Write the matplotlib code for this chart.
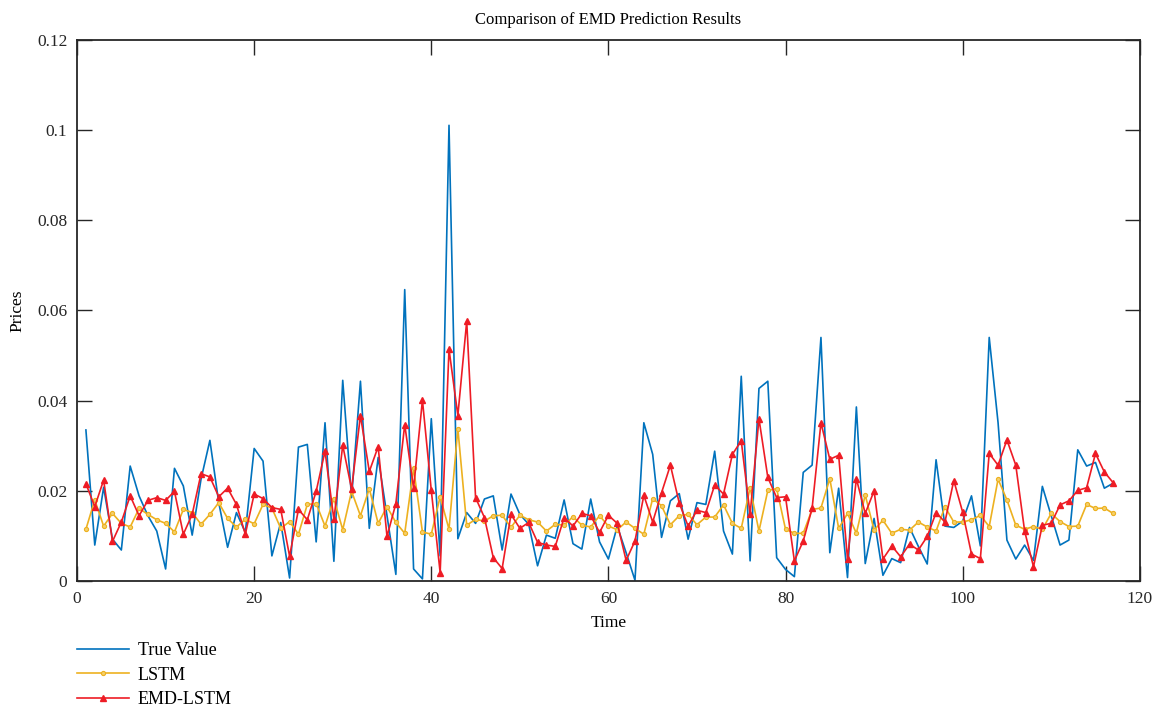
import matplotlib
matplotlib.use('Agg')
import matplotlib.pyplot as plt
import numpy as np

plt.rcParams['font.family'] = ['Liberation Serif', 'DejaVu Serif']

# values, time steps 1..117
true_value = [
    0.0335, 0.0080, 0.0208, 0.0093, 0.0069, 0.0255, 0.0189, 0.0145, 0.0111, 0.0027,
    0.0250, 0.0211, 0.0102, 0.0226, 0.0312, 0.0174, 0.0075, 0.0152, 0.0108, 0.0294,
    0.0266, 0.0056, 0.0130, 0.0007, 0.0297, 0.0303, 0.0087, 0.0351, 0.0044, 0.0445,
    0.0185, 0.0443, 0.0117, 0.0274, 0.0145, 0.0015, 0.0646, 0.0027, 0.0005, 0.0360,
    0.0056, 0.1010, 0.0094, 0.0152, 0.0128, 0.0182, 0.0189, 0.0069, 0.0193, 0.0148,
    0.0126, 0.0034, 0.0102, 0.0095, 0.0180, 0.0083, 0.0071, 0.0182, 0.0087, 0.0049,
    0.0122, 0.0063, 0.0002, 0.0351, 0.0281, 0.0097, 0.0178, 0.0194, 0.0093, 0.0174,
    0.0170, 0.0288, 0.0111, 0.0060, 0.0454, 0.0045, 0.0427, 0.0443, 0.0052, 0.0026,
    0.0010, 0.0241, 0.0257, 0.0540, 0.0063, 0.0206, 0.0008, 0.0386, 0.0039, 0.0139,
    0.0013, 0.0050, 0.0041, 0.0119, 0.0077, 0.0038, 0.0269, 0.0122, 0.0119, 0.0133,
    0.0189, 0.0078, 0.0540, 0.0351, 0.0091, 0.0049, 0.0080, 0.0046, 0.0210, 0.0145,
    0.0080, 0.0091, 0.0291, 0.0255, 0.0263, 0.0206, 0.0217,
]
lstm = [
    0.0115, 0.0180, 0.0122, 0.0150, 0.0128, 0.0120, 0.0161, 0.0148, 0.0136, 0.0128,
    0.0109, 0.0159, 0.0152, 0.0126, 0.0148, 0.0174, 0.0139, 0.0120, 0.0137, 0.0127,
    0.0170, 0.0162, 0.0117, 0.0132, 0.0104, 0.0170, 0.0172, 0.0122, 0.0183, 0.0114,
    0.0199, 0.0145, 0.0205, 0.0128, 0.0165, 0.0130, 0.0106, 0.0250, 0.0109, 0.0104,
    0.0187, 0.0115, 0.0338, 0.0124, 0.0137, 0.0133, 0.0145, 0.0146, 0.0119, 0.0146,
    0.0136, 0.0131, 0.0111, 0.0126, 0.0124, 0.0143, 0.0124, 0.0120, 0.0145, 0.0122,
    0.0114, 0.0131, 0.0117, 0.0104, 0.0183, 0.0167, 0.0125, 0.0145, 0.0148, 0.0125,
    0.0142, 0.0142, 0.0169, 0.0128, 0.0117, 0.0207, 0.0111, 0.0201, 0.0205, 0.0115,
    0.0106, 0.0106, 0.0159, 0.0162, 0.0227, 0.0117, 0.0150, 0.0106, 0.0191, 0.0113,
    0.0135, 0.0106, 0.0115, 0.0113, 0.0131, 0.0120, 0.0111, 0.0165, 0.0131, 0.0131,
    0.0136, 0.0146, 0.0121, 0.0226, 0.0180, 0.0124, 0.0115, 0.0121, 0.0115, 0.0150,
    0.0132, 0.0121, 0.0122, 0.0170, 0.0161, 0.0162, 0.0150,
]
emd_lstm = [
    0.0216, 0.0165, 0.0224, 0.0088, 0.0131, 0.0189, 0.0145, 0.0179, 0.0185, 0.0179,
    0.0199, 0.0104, 0.0148, 0.0238, 0.0231, 0.0187, 0.0206, 0.0170, 0.0104, 0.0193,
    0.0183, 0.0163, 0.0159, 0.0055, 0.0159, 0.0136, 0.0199, 0.0288, 0.0137, 0.0301,
    0.0204, 0.0367, 0.0243, 0.0298, 0.0099, 0.0172, 0.0347, 0.0206, 0.0401, 0.0201,
    0.0019, 0.0514, 0.0367, 0.0576, 0.0185, 0.0141, 0.0052, 0.0028, 0.0148, 0.0117,
    0.0130, 0.0086, 0.0080, 0.0077, 0.0141, 0.0122, 0.0150, 0.0145, 0.0108, 0.0146,
    0.0128, 0.0046, 0.0089, 0.0190, 0.0131, 0.0196, 0.0257, 0.0173, 0.0122, 0.0157,
    0.0152, 0.0213, 0.0193, 0.0281, 0.0311, 0.0148, 0.0360, 0.0230, 0.0185, 0.0187,
    0.0045, 0.0089, 0.0161, 0.0351, 0.0270, 0.0279, 0.0049, 0.0227, 0.0150, 0.0200,
    0.0049, 0.0078, 0.0054, 0.0082, 0.0069, 0.0099, 0.0152, 0.0131, 0.0223, 0.0153,
    0.0060, 0.0050, 0.0283, 0.0257, 0.0313, 0.0257, 0.0111, 0.0032, 0.0124, 0.0128,
    0.0169, 0.0178, 0.0201, 0.0207, 0.0283, 0.0242, 0.0218,
]
time_steps = np.arange(1, len(true_value) + 1)

fig = plt.figure(figsize=(11.57, 7.07), dpi=100)
ax = fig.add_axes([0.0666, 0.178, 0.9185, 0.766])

ax.plot(time_steps, true_value, color='#0072BD', lw=1.2, label='True Value')
ax.plot(time_steps, lstm, color='#EDB120', lw=1.2, marker='o', ms=3,
        mfc='#F5CF6A', mec='#EDB120', mew=0.8, label='LSTM')
ax.plot(time_steps, emd_lstm, color='#EE1C25', lw=1.2, marker='^', ms=4.5,
        label='EMD-LSTM')

ax.set_xlim(0, 120)
ax.set_ylim(0, 0.12)
ax.set_xticks([0, 20, 40, 60, 80, 100, 120])
ax.set_yticks([0, 0.02, 0.04, 0.06, 0.08, 0.1, 0.12])
ax.set_yticklabels(['0', '0.02', '0.04', '0.06', '0.08', '0.1', '0.12'])
ax.tick_params(direction='in', length=11, width=1, top=True, right=True,
               labelsize=12.5, colors='#262626', pad=7)
for sp in ax.spines.values():
    sp.set_linewidth(1.3)
    sp.set_color('#262626')

ax.set_title('Comparison of EMD Prediction Results', fontsize=12, pad=11)
ax.set_xlabel('Time', fontsize=12.5, labelpad=6)
ax.set_ylabel('Prices', fontsize=12.5, labelpad=8)

fig.legend(loc='upper left', bbox_to_anchor=(0.0666, 0.092), frameon=False,
           fontsize=13, handlelength=2.9, handletextpad=0.45,
           labelspacing=0.42, borderpad=0, borderaxespad=0)

fig.savefig('out.png', dpi=100)
